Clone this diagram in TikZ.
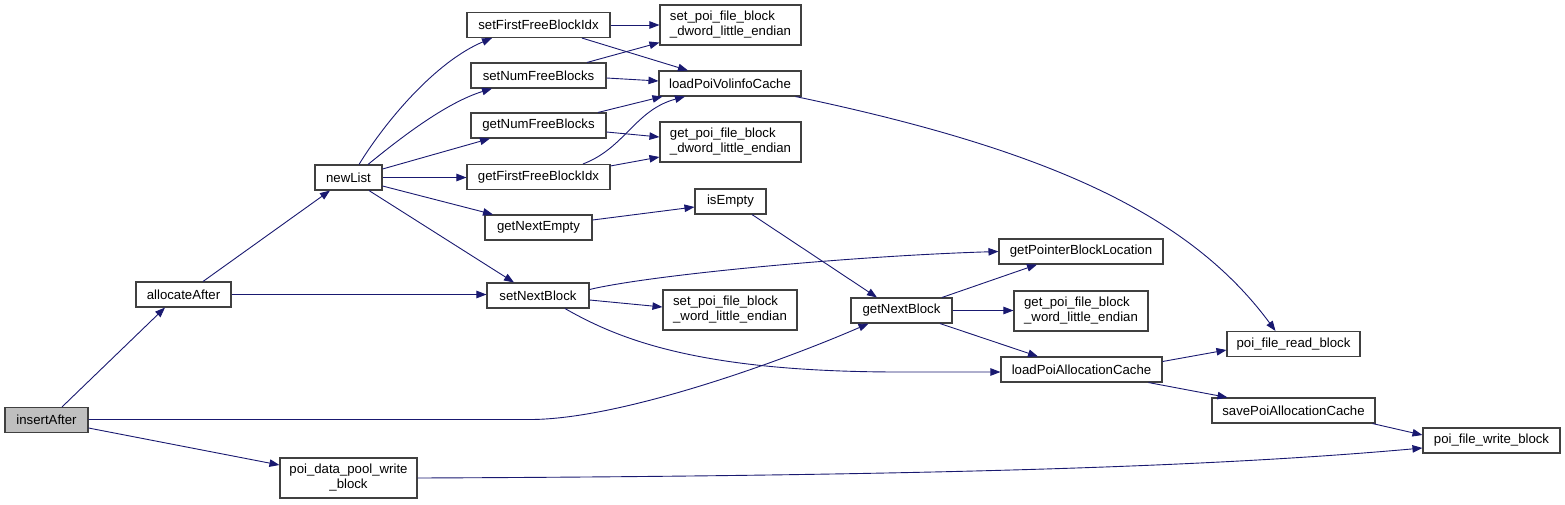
\documentclass[tikz,border=0pt]{standalone}
\usepackage{fontspec}
\setmainfont{Liberation Sans}
\usetikzlibrary{calc,arrows.meta}
\definecolor{edgecol}{HTML}{191970}
\definecolor{boxline}{HTML}{404040}
\tikzset{
  box/.style={draw=boxline, line width=1.1pt, rectangle, inner sep=0pt, fill=white,
    minimum height=25pt, font=\fontsize{13.2}{15}\selectfont},
  tall/.style={minimum height=40pt, align=left},
  edge/.style={draw=edgecol, line width=0.9pt, -{Triangle[length=10pt,width=7.5pt]}}
}
\begin{document}
\begin{tikzpicture}[x=1pt,y=-1pt]
\useasboundingbox (0,0) rectangle (1565,504);
% nodes
\node[box, minimum width=83pt, fill=black!25] (iA) at (46.5,420) {insertAfter};
\node[box, minimum width=95pt] (aA) at (183.5,294.5) {allocateAfter};
\node[box, minimum width=67pt] (nL) at (348.5,177.5) {newList};
\node[box, minimum width=143pt] (sFF) at (538.5,25) {setFirstFreeBlockIdx};
\node[box, minimum width=135pt] (sNF) at (538.5,75.5) {setNumFreeBlocks};
\node[box, minimum width=135pt] (gNF) at (538.5,125.5) {getNumFreeBlocks};
\node[box, minimum width=143pt] (gFF) at (538.5,177) {getFirstFreeBlockIdx};
\node[box, minimum width=107pt] (gNE) at (538.5,227.5) {getNextEmpty};
\node[box, minimum width=102pt] (sNB) at (538,295.5) {setNextBlock};
\node[box, tall, minimum width=141pt] (sdw) at (730.5,25) {set\_poi\_file\_block\\\_dword\_little\_endian};
\node[box, minimum width=142pt] (lPV) at (730,83.5) {loadPoiVolinfoCache};
\node[box, tall, minimum width=141pt] (gdw) at (730.5,142) {get\_poi\_file\_block\\\_dword\_little\_endian};
\node[box, minimum width=71pt] (iE) at (730.5,201.5) {isEmpty};
\node[box, tall, minimum width=134pt] (sww) at (730,310) {set\_poi\_file\_block\\\_word\_little\_endian};
\node[box, minimum width=101pt] (gNB) at (901.5,310.5) {getNextBlock};
\node[box, minimum width=164pt] (gPB) at (1081,251.5) {getPointerBlockLocation};
\node[box, tall, minimum width=134pt] (gww) at (1081,311) {get\_poi\_file\_block\\\_word\_little\_endian};
\node[box, minimum width=161pt] (lPA) at (1081.5,369.5) {loadPoiAllocationCache};
\node[box, minimum width=133pt] (pfr) at (1293.5,344) {poi\_file\_read\_block};
\node[box, minimum width=163pt] (sPA) at (1293.5,410.5) {savePoiAllocationCache};
\node[box, minimum width=137pt] (pfw) at (1491.5,440.5) {poi\_file\_write\_block};
\node[box, tall, align=center, minimum width=137pt] (pdp) at (348.5,478) {poi\_data\_pool\_write\\\_block};
% edges
\draw[edge] ($(iA.north)+(15.5,0)$) -- ($(aA.south)+(-18.5,0)$);
\draw[edge] ($(iA.east)+(0,-0.5)$) -- (530,419.5) .. controls (620,419.5) and (780,362) .. ($(gNB.south)+(-33,0)$);
\draw[edge] ($(iA.east)+(0,8)$) -- ($(pdp.west)+(0,-13)$);
\draw[edge] ($(aA.north)+(19.5,0)$) -- ($(nL.south)+(-18.5,0)$);
\draw[edge] (aA.east) -- (aA.east -| sNB.west);
\draw[edge] ($(nL.north)+(10.5,0)$) .. controls (385,122) and (435,62) .. ($(sFF.south)+(-46.5,0)$);
\draw[edge] ($(nL.north)+(19.5,0)$) .. controls (398,140) and (445,103) .. ($(sNF.south)+(-46.5,0)$);
\draw[edge] ($(nL.east)+(0,-8.5)$) -- ($(gNF.south)+(-48.5,0)$);
\draw[edge] (nL.east) -- (nL.east -| gFF.west);
\draw[edge] ($(nL.east)+(0,8.5)$) -- ($(gNE.north)+(-45.5,0)$);
\draw[edge] ($(nL.south)+(20.5,0)$) -- ($(sNB.north)+(-24,0)$);
\draw[edge] (sFF.east) -- (sdw.west);
\draw[edge] ($(sFF.south)+(43.5,0)$) -- ($(lPV.north)+(-42,0)$);
\draw[edge] ($(sNF.north)+(48.5,0)$) -- ($(sdw.south west)+(0,-3)$);
\draw[edge] ($(sNF.east)+(0,2.5)$) -- ($(lPV.west)+(0,-2.5)$);
\draw[edge] ($(gNF.north)+(59.5,0)$) -- ($(lPV.south west)+(4,0)$);
\draw[edge] ($(gNF.east)+(0,6.5)$) -- ($(gdw.west)+(0,-5)$);
\draw[edge] ($(gFF.north)+(44.5,0)$) .. controls (625,148) and (635,110) .. ($(lPV.south)+(-45,0)$);
\draw[edge] ($(gFF.north east)+(0,2)$) -- ($(gdw.west)+(0,15)$);
\draw[edge] ($(gNE.east)+(0,-7.5)$) -- ($(iE.west)+(0,5.5)$);
\draw[edge] ($(iE.south)+(21.5,0)$) -- ($(gNB.north)+(-24.5,0)$);
\draw[edge] ($(lPV.south east)+(-6,0)$) .. controls (1050,150) and (1190,215) .. ($(pfr.north)+(-18,0)$);
\draw[edge] ($(sNB.east)+(0,-6)$) .. controls (650,275) and (850,256) .. (gPB.west);
\draw[edge] ($(sNB.east)+(0,4.5)$) -- ($(sww.west)+(0,-3)$);
\draw[edge] ($(sNB.south)+(27,0)$) .. controls (620,340) and (700,372) .. (900,372) -- ($(lPA.west)+(0,2.5)$);
\draw[edge] ($(gNB.north)+(40.5,0)$) -- ($(gPB.south)+(-44,0)$);
\draw[edge] (gNB.east) -- (gNB.east -| gww.west);
\draw[edge] ($(gNB.south)+(38.5,0)$) -- ($(lPA.north)+(-43.5,0)$);
\draw[edge] ($(lPA.east)+(0,-8)$) -- ($(pfr.west)+(0,6)$);
\draw[edge] ($(lPA.south)+(67,0)$) -- ($(sPA.north)+(-66,0)$);
\draw[edge] ($(sPA.south east)+(-3,0)$) -- ($(pfw.west)+(0,-5.5)$);
\draw[edge] (pdp.east) .. controls (900,476) and (1200,468) .. ($(pfw.west)+(0,7.5)$);
\end{tikzpicture}
\end{document}
